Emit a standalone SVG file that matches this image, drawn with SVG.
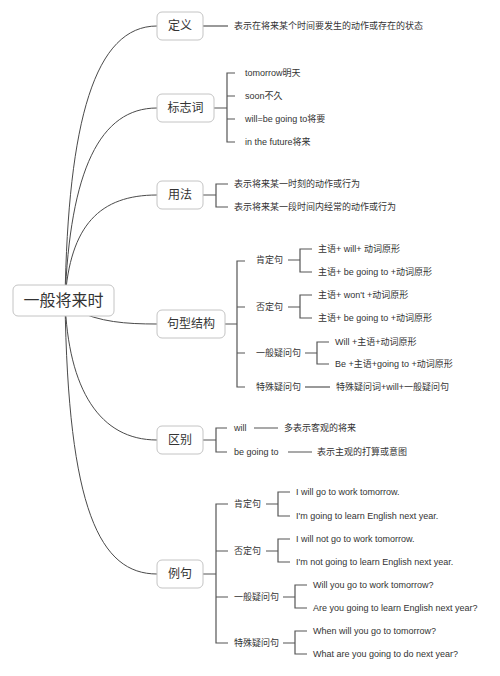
<svg xmlns="http://www.w3.org/2000/svg" width="500" height="676" viewBox="0 0 500 676">
<style>
text{font-family:"Liberation Sans","Noto Sans CJK SC",sans-serif;fill:#333;dominant-baseline:central}
.t{font-size:9px}
.n{font-size:12px;text-anchor:middle}
.root{font-size:16px;text-anchor:middle}
.box{fill:#fff;stroke:#c4c4c4;stroke-width:1}
.c{fill:none;stroke:#4a4a4a;stroke-width:1}
.b{fill:none;stroke:#555;stroke-width:1.2}
</style>
<rect width="500" height="676" fill="#fff"/>
<g id="connectors">
<path class="c" d="M65 300 C68 120 95 26 157 26"/>
<path class="c" d="M65 300 C70 170 100 108 157 108"/>
<path class="c" d="M65 300 C70 225 100 195 157 195"/>
<path class="c" d="M75 310 C100 322 125 324 157 324"/>
<path class="c" d="M65 300 C68 390 100 440 157 440"/>
<path class="c" d="M65 300 C68 510 100 574 157 574"/>
<!-- 定义 -->
<path class="b" d="M203 26 H228"/>
<!-- 标志词 -->
<path class="b" d="M214 108 H227 M235 73 H227 V142 H235 M227 96 H235 M227 119 H235"/>
<!-- 用法 -->
<path class="b" d="M203 195 H216 M228 184 H216 V207 H228"/>
<!-- 句型结构 -->
<path class="b" d="M225 324 H237 M245 261 H237 V387 H245 M237 307 H245 M237 353 H245"/>
<path class="b" d="M288 260 H300 M312 249 H300 V272 H312"/>
<path class="b" d="M288 307 H300 M312 295 H300 V318 H312"/>
<path class="b" d="M305 353 H317 M329 342 H317 V364 H329"/>
<path class="b" d="M305 387 H330"/>
<!-- 区别 -->
<path class="b" d="M203 440 H216 M227 428 H216 V452 H227"/>
<path class="b" d="M254 428 H278 M288 452 H312"/>
<!-- 例句 -->
<path class="b" d="M203 574 H216 M228 504 H216 V643 H228 M216 551 H228 M216 597 H228"/>
<path class="b" d="M266 504 H278 M290 492 H278 V516 H290"/>
<path class="b" d="M266 551 H278 M290 539 H278 V562 H290"/>
<path class="b" d="M283 597 H295 M307 585 H295 V608 H307"/>
<path class="b" d="M283 643 H295 M307 631 H295 V654 H307"/>
</g>
<g id="root"><rect class="box" x="13" y="285" width="101" height="31" rx="5"/><text class="root" x="63.5" y="300.5">一般将来时</text></g>
<g id="n-dingyi"><rect class="box" x="157" y="12" width="46" height="28" rx="5"/><text class="n" x="180" y="26">定义</text>
<text class="t" x="234" y="26">表示在将来某个时间要发生的动作或存在的状态</text></g>
<g id="n-biaozhici"><rect class="box" x="157" y="94" width="57" height="28" rx="5"/><text class="n" x="185.5" y="108">标志词</text>
<text class="t" x="245" y="73">tomorrow明天</text>
<text class="t" x="245" y="96">soon不久</text>
<text class="t" x="245" y="119">will=be going to将要</text>
<text class="t" x="245" y="142">in the future将来</text></g>
<g id="n-yongfa"><rect class="box" x="157" y="181" width="46" height="28" rx="5"/><text class="n" x="180" y="195">用法</text>
<text class="t" x="234" y="184">表示将来某一时刻的动作或行为</text>
<text class="t" x="234" y="207">表示将来某一段时间内经常的动作或行为</text></g>
<g id="n-juxing"><rect class="box" x="157" y="310" width="68" height="28" rx="5"/><text class="n" x="191" y="324">句型结构</text>
<text class="t" x="256" y="260">肯定句</text>
<text class="t" x="256" y="307">否定句</text>
<text class="t" x="256" y="353">一般疑问句</text>
<text class="t" x="256" y="387">特殊疑问句</text>
<text class="t" x="318" y="249">主语+ will+ 动词原形</text>
<text class="t" x="318" y="272">主语+ be going to +动词原形</text>
<text class="t" x="318" y="295">主语+ won't +动词原形</text>
<text class="t" x="318" y="318">主语+ be going to +动词原形</text>
<text class="t" x="335" y="342">Will +主语+动词原形</text>
<text class="t" x="335" y="364">Be +主语+going to +动词原形</text>
<text class="t" x="336" y="387">特殊疑问词+will+一般疑问句</text></g>
<g id="n-qubie"><rect class="box" x="157" y="426" width="46" height="28" rx="5"/><text class="n" x="180" y="440">区别</text>
<text class="t" x="234" y="428">will</text>
<text class="t" x="234" y="452">be going to</text>
<text class="t" x="284" y="428">多表示客观的将来</text>
<text class="t" x="317" y="452">表示主观的打算或意图</text></g>
<g id="n-liju"><rect class="box" x="157" y="560" width="46" height="28" rx="5"/><text class="n" x="180" y="574">例句</text>
<text class="t" x="234" y="504">肯定句</text>
<text class="t" x="234" y="551">否定句</text>
<text class="t" x="234" y="597">一般疑问句</text>
<text class="t" x="234" y="643">特殊疑问句</text>
<text class="t" x="296" y="492">I will go to work tomorrow.</text>
<text class="t" x="296" y="516">I'm going to learn English next year.</text>
<text class="t" x="296" y="539">I will not go to work tomorrow.</text>
<text class="t" x="296" y="562">I'm not going to learn English next year.</text>
<text class="t" x="313" y="585">Will you go to work tomorrow?</text>
<text class="t" x="313" y="608">Are you going to learn English next year?</text>
<text class="t" x="313" y="631">When will you go to tomorrow?</text>
<text class="t" x="313" y="654">What are you going to do next year?</text></g>
</svg>
